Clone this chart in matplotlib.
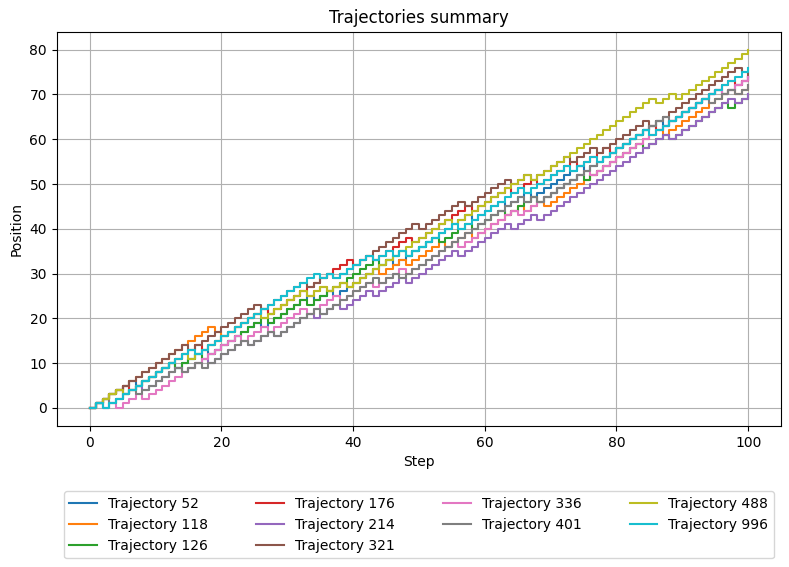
import matplotlib
matplotlib.use("Agg")
import matplotlib.pyplot as plt

# positions, one value per step (0..100)
steps = list(range(101))

traj_52 = [0,
    1, 2, 3, 4, 5, 6, 5, 6, 7, 8,
    9, 10, 9, 10, 11, 12, 13, 12, 13, 14,
    15, 16, 17, 18, 19, 18, 19, 20, 21, 22,
    23, 24, 25, 24, 25, 26, 25, 26, 27, 28,
    29, 30, 31, 32, 33, 32, 33, 34, 35, 36,
    37, 38, 39, 40, 41, 42, 43, 42, 43, 44,
    45, 46, 45, 46, 47, 48, 47, 48, 49, 50,
    51, 52, 53, 54, 53, 54, 55, 56, 57, 58,
    59, 60, 61, 62, 63, 64, 63, 64, 65, 66,
    67, 68, 69, 70, 71, 70, 71, 72, 73, 74]

traj_118 = [0,
    1, 2, 3, 4, 5, 6, 7, 8, 9, 10,
    11, 12, 13, 14, 15, 16, 17, 18, 17, 16,
    17, 18, 19, 20, 21, 22, 21, 22, 23, 24,
    25, 26, 25, 26, 27, 26, 27, 28, 27, 28,
    29, 30, 31, 30, 31, 32, 33, 32, 33, 34,
    35, 36, 37, 36, 37, 38, 39, 38, 39, 40,
    41, 42, 43, 44, 45, 44, 45, 46, 45, 46,
    47, 48, 49, 50, 51, 52, 53, 54, 55, 56,
    57, 58, 59, 60, 61, 62, 61, 62, 63, 64,
    65, 66, 67, 68, 69, 70, 71, 70, 71, 72]

traj_126 = [0,
    1, 2, 3, 4, 3, 4, 5, 6, 7, 8,
    9, 10, 9, 10, 11, 12, 11, 12, 13, 14,
    15, 16, 17, 18, 19, 20, 19, 20, 21, 22,
    23, 24, 23, 24, 25, 26, 27, 28, 29, 30,
    31, 32, 33, 32, 33, 34, 35, 34, 35, 36,
    37, 38, 37, 38, 39, 40, 41, 40, 41, 42,
    43, 44, 43, 44, 45, 46, 47, 46, 47, 48,
    49, 50, 51, 52, 51, 52, 53, 54, 55, 56,
    57, 58, 59, 58, 59, 60, 61, 60, 61, 62,
    63, 64, 65, 66, 67, 68, 67, 68, 69, 70]

traj_176 = [0,
    1, 2, 3, 4, 5, 4, 5, 6, 7, 8,
    9, 10, 11, 12, 13, 14, 13, 14, 15, 16,
    17, 18, 19, 20, 21, 22, 21, 22, 23, 24,
    25, 26, 27, 28, 29, 30, 31, 32, 33, 32,
    33, 34, 33, 34, 35, 36, 37, 38, 37, 38,
    39, 40, 41, 42, 43, 44, 45, 44, 45, 46,
    47, 48, 49, 48, 49, 50, 51, 50, 51, 52,
    53, 54, 55, 54, 55, 56, 57, 58, 57, 58,
    59, 60, 61, 62, 63, 62, 63, 64, 65, 66,
    67, 68, 69, 70, 71, 72, 73, 72, 73, 74]

traj_214 = [0,
    1, 0, 1, 2, 3, 4, 5, 4, 5, 6,
    7, 8, 9, 8, 9, 10, 11, 10, 11, 12,
    13, 14, 15, 14, 15, 16, 17, 16, 17, 18,
    19, 20, 21, 20, 21, 22, 23, 22, 23, 24,
    25, 26, 25, 26, 27, 28, 29, 28, 29, 30,
    31, 32, 33, 34, 35, 34, 35, 36, 37, 38,
    39, 40, 41, 40, 41, 42, 43, 42, 43, 44,
    45, 46, 47, 48, 49, 50, 51, 52, 53, 54,
    55, 56, 57, 58, 59, 60, 61, 60, 61, 62,
    63, 64, 65, 66, 67, 68, 69, 68, 69, 70]

traj_321 = [0,
    1, 2, 3, 4, 5, 6, 7, 8, 9, 10,
    11, 12, 13, 14, 13, 14, 15, 16, 17, 18,
    19, 20, 21, 22, 23, 22, 23, 24, 25, 26,
    27, 28, 27, 28, 29, 30, 29, 30, 31, 32,
    33, 34, 35, 36, 37, 38, 39, 40, 41, 40,
    41, 42, 43, 44, 45, 46, 45, 46, 47, 48,
    49, 50, 51, 50, 51, 52, 51, 52, 53, 54,
    55, 56, 55, 56, 57, 58, 57, 58, 59, 60,
    61, 62, 63, 64, 63, 64, 65, 66, 67, 68,
    69, 70, 71, 72, 73, 74, 75, 76, 75, 74]

traj_336 = [0,
    1, 0, 1, 0, 1, 2, 3, 2, 3, 4,
    5, 6, 7, 8, 9, 10, 11, 12, 13, 14,
    15, 16, 15, 16, 17, 18, 17, 18, 19, 20,
    21, 22, 21, 22, 23, 24, 25, 24, 25, 26,
    27, 28, 27, 28, 29, 30, 31, 30, 31, 32,
    33, 34, 35, 36, 37, 36, 37, 38, 39, 40,
    41, 42, 43, 44, 43, 44, 45, 46, 47, 48,
    49, 50, 51, 52, 53, 52, 53, 54, 55, 56,
    57, 58, 59, 60, 61, 62, 63, 64, 65, 66,
    67, 68, 69, 70, 71, 70, 71, 72, 73, 74]

traj_401 = [0,
    1, 2, 1, 2, 3, 4, 3, 4, 5, 6,
    7, 8, 9, 8, 9, 10, 9, 10, 11, 12,
    13, 14, 15, 14, 15, 16, 17, 16, 17, 18,
    19, 20, 21, 22, 21, 22, 23, 24, 25, 26,
    27, 28, 29, 28, 29, 30, 29, 30, 31, 32,
    33, 34, 35, 36, 37, 38, 39, 40, 41, 42,
    43, 44, 45, 46, 47, 46, 47, 46, 47, 48,
    49, 50, 51, 52, 53, 54, 55, 56, 57, 58,
    59, 60, 61, 62, 63, 64, 65, 64, 65, 66,
    67, 68, 69, 68, 69, 70, 71, 70, 71, 72]

traj_488 = [0,
    1, 2, 3, 4, 3, 4, 5, 6, 7, 8,
    9, 10, 11, 12, 11, 12, 13, 14, 15, 16,
    17, 18, 19, 20, 21, 20, 21, 22, 23, 24,
    25, 26, 25, 26, 27, 26, 27, 28, 27, 28,
    29, 30, 31, 32, 33, 34, 35, 36, 37, 38,
    39, 40, 41, 42, 41, 42, 43, 44, 45, 46,
    47, 48, 49, 50, 51, 52, 51, 52, 53, 54,
    55, 56, 57, 58, 59, 60, 61, 62, 63, 64,
    65, 66, 67, 68, 69, 68, 69, 70, 69, 70,
    71, 72, 73, 74, 75, 76, 77, 78, 79, 80]

traj_996 = [0,
    1, 0, 1, 2, 3, 4, 5, 6, 7, 8,
    9, 10, 11, 12, 13, 12, 13, 14, 15, 16,
    17, 18, 19, 20, 21, 22, 23, 24, 25, 26,
    27, 28, 29, 30, 29, 30, 29, 30, 31, 32,
    33, 34, 33, 34, 35, 34, 35, 34, 35, 36,
    37, 38, 39, 40, 41, 40, 41, 42, 43, 44,
    45, 46, 47, 48, 49, 48, 49, 50, 51, 52,
    53, 54, 53, 54, 55, 56, 55, 56, 57, 58,
    59, 60, 61, 62, 61, 62, 63, 64, 65, 66,
    67, 68, 69, 70, 71, 72, 73, 74, 75, 76]

traj_ids = [52, 118, 126, 176, 214, 321, 336, 401, 488, 996]
traj_values = [traj_52, traj_118, traj_126, traj_176, traj_214,
               traj_321, traj_336, traj_401, traj_488, traj_996]

fig = plt.figure(figsize=(7.89, 5.67), dpi=100)
ax = fig.add_axes([0.072, 0.249, 0.918, 0.695])

for tid, vals in zip(traj_ids, traj_values):
    ax.step(steps, vals, where='post', label=f'Trajectory {tid}')

ax.set_title('Trajectories summary')
ax.set_xlabel('Step')
ax.set_ylabel('Position')
ax.grid(True)
ax.legend(loc='upper center', bbox_to_anchor=(0.5, -0.149), ncol=4,
          columnspacing=3.45)

fig.savefig('out.png', dpi=100)
